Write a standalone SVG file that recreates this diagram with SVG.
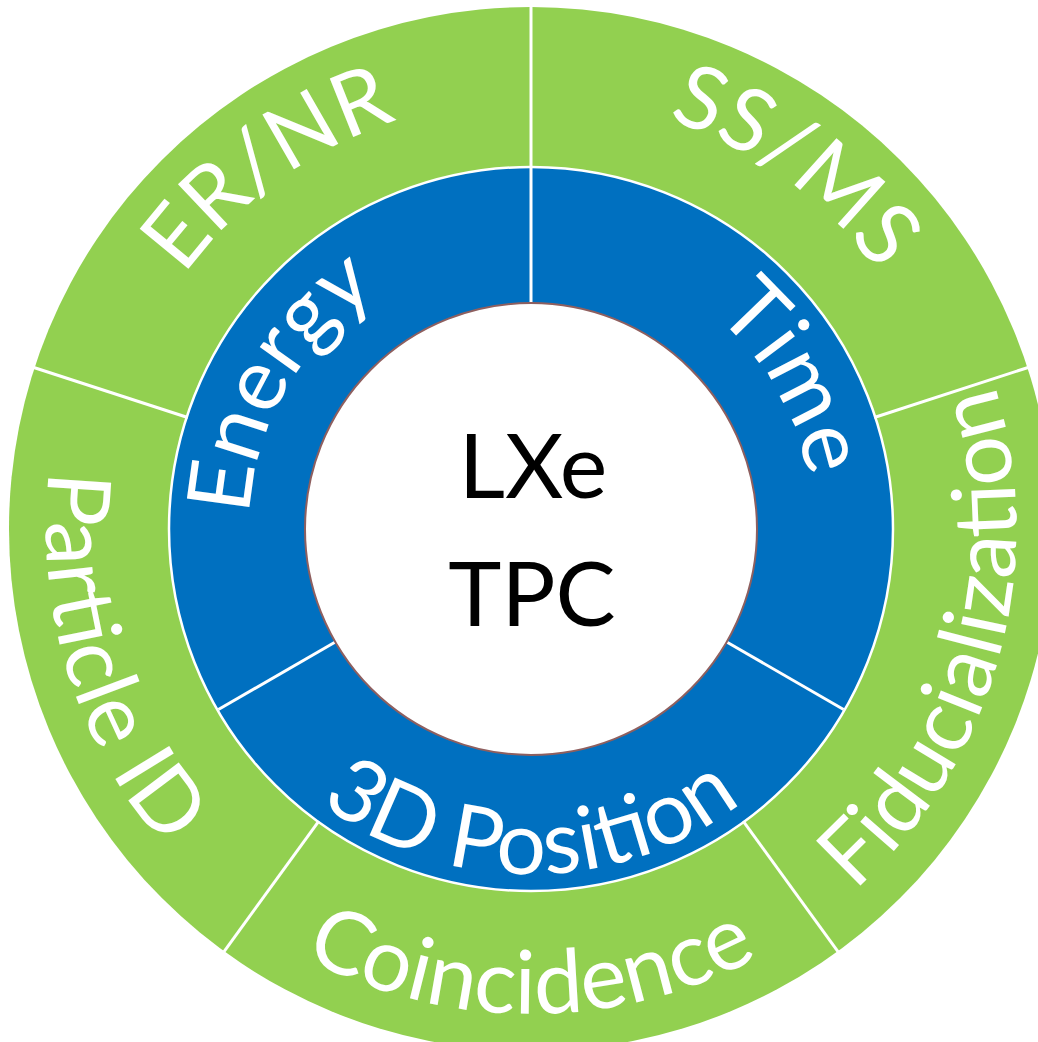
<svg xmlns="http://www.w3.org/2000/svg" width="1038" height="1042" viewBox="0 0 1038 1042">
  <style>
    .outer { fill: #92D050; }
    .inner { fill: #0070C0; stroke: #FFFFFF; stroke-width: 2.5; }
    .core { fill: #FFFFFF; stroke: #8E5F5F; stroke-width: 2; }
    .divider { stroke: #FFFFFF; stroke-width: 3; fill: none; }
    .lbl { font-family: Lato, "Open Sans", sans-serif; fill: #FFFFFF; font-size: 88px; }
    .core-lbl { font-family: Lato, "Open Sans", sans-serif; fill: #000000; font-size: 90px; text-anchor: middle; }
  </style>
  <defs>
    <!-- baseline arcs, local coordinates around the common centre -->
    <path id="arc-ernr" d="M-386.5,188.5 A430,430 0 0 1 298.7,-309.3"/>
    <path id="arc-ssms" d="M-300.1,-310.7 A432,432 0 0 1 388.3,189.4"/>
    <path id="arc-fid" d="M-46.5,482.8 A485,485 0 0 0 208.8,-437.8"/>
    <path id="arc-coin" d="M-477.6,84.2 A485,485 0 0 0 477.6,84.2"/>
    <path id="arc-pid" d="M-220.2,-432.1 A485,485 0 0 0 59.1,481.4"/>
    <path id="arc-energy" d="M-181.3,216 A282,282 0 0 1 96.4,-265"/>
    <path id="arc-time" d="M-96.4,-265 A282,282 0 0 1 181.3,216"/>
    <path id="arc-pos" d="M-339.8,59.9 A345,345 0 0 0 339.8,59.9"/>
  </defs>
  <rect width="1038" height="1042" fill="#FFFFFF"/>
  <g transform="translate(531,529)">
    <!-- outer ring -->
    <g id="ring-outer">
      <circle class="outer" r="522"/>
    </g>
    <!-- inner ring -->
    <g id="ring-inner">
      <circle class="inner" r="362"/>
    </g>
    <g id="connectors">
      <!-- outer ring separators at 90, 18, -54, -126, 162 deg -->
      <line class="divider" x1="0" y1="-361" x2="0" y2="-530"/>
      <line class="divider" x1="343.3" y1="-111.5" x2="504.1" y2="-163.8"/>
      <line class="divider" x1="212.2" y1="292.1" x2="311.5" y2="428.8"/>
      <line class="divider" x1="-212.2" y1="292.1" x2="-311.5" y2="428.8"/>
      <line class="divider" x1="-343.3" y1="-111.5" x2="-504.1" y2="-163.8"/>
      <!-- inner ring separators at 90, 210, 330 deg -->
      <line class="divider" x1="0" y1="-226" x2="0" y2="-361"/>
      <line class="divider" x1="-195.7" y1="113" x2="-312.6" y2="180.5"/>
      <line class="divider" x1="195.7" y1="113" x2="312.6" y2="180.5"/>
    </g>
    <g id="node-core">
      <circle class="core" r="226"/>
      <text class="core-lbl" x="2" y="-31">LXe</text>
      <text class="core-lbl" x="1" y="97">TPC</text>
    </g>
    <g id="node-energy">
      <text class="lbl"><textPath href="#arc-energy" startOffset="50%" text-anchor="middle">Energy</textPath></text>
    </g>
    <g id="node-time">
      <text class="lbl"><textPath href="#arc-time" startOffset="50%" text-anchor="middle">Time</textPath></text>
    </g>
    <g id="node-position">
      <text class="lbl"><textPath href="#arc-pos" startOffset="50%" text-anchor="middle">3D Position</textPath></text>
    </g>
    <g id="node-ernr">
      <text class="lbl"><textPath href="#arc-ernr" startOffset="50%" text-anchor="middle">ER/NR</textPath></text>
    </g>
    <g id="node-ssms">
      <text class="lbl"><textPath href="#arc-ssms" startOffset="50%" text-anchor="middle">SS/MS</textPath></text>
    </g>
    <g id="node-fiducialization">
      <text class="lbl"><textPath href="#arc-fid" startOffset="50%" text-anchor="middle">Fiducialization</textPath></text>
    </g>
    <g id="node-coincidence">
      <text class="lbl"><textPath href="#arc-coin" startOffset="50%" text-anchor="middle">Coincidence</textPath></text>
    </g>
    <g id="node-particle-id">
      <text class="lbl"><textPath href="#arc-pid" startOffset="50%" text-anchor="middle">Particle ID</textPath></text>
    </g>
  </g>
</svg>
